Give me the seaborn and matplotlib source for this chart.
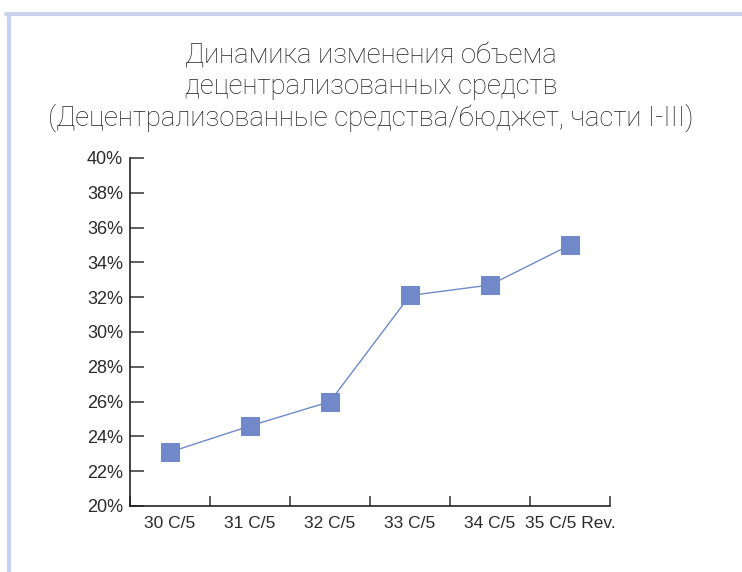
import matplotlib
matplotlib.use('Agg')
import matplotlib.pyplot as plt
from matplotlib.lines import Line2D
from matplotlib.ticker import FixedLocator, PercentFormatter
import seaborn as sns
import pandas as pd

# data
sessions = ['30 C/5', '31 C/5', '32 C/5', '33 C/5', '34 C/5', '35 C/5 Rev.']
share = [23.1, 24.6, 26.0, 32.1, 32.7, 35.0]
y_ticks = [20, 22, 24, 26, 28, 30, 32, 34, 36, 38, 40]

title = ('Динамика изменения объема\n'
         'децентрализованных средств\n'
         '(Децентрализованные средства/бюджет, части I-III)')

df = pd.DataFrame({'pos': range(len(sessions)), 'share': share})

sns.set_style('white')
plt.rcParams['font.family'] = ['Liberation Sans', 'DejaVu Sans']
txt = '#2b2b2b'
blue = '#7189c8'

fig = plt.figure(figsize=(7.42, 5.72), dpi=100)
ax = fig.add_axes([130 / 742, 1 - 506 / 572, 480 / 742, 348 / 572])

sns.lineplot(data=df, x='pos', y='share', ax=ax, color=blue, linewidth=1,
             marker='s', markersize=12.5, markeredgecolor=blue)

ax.set_xlim(-0.5, len(sessions) - 0.5)
ax.set_ylim(20, 40)
ax.set_xticks(range(len(sessions)))
ax.set_xticklabels(sessions)
ax.xaxis.set_minor_locator(FixedLocator([i - 0.5 for i in range(len(sessions) + 1)]))
ax.set_yticks(y_ticks)
ax.yaxis.set_major_formatter(PercentFormatter(decimals=0))
ax.set_xlabel('')
ax.set_ylabel('')

for s in ['top', 'right']:
    ax.spines[s].set_visible(False)
for s in ['left', 'bottom']:
    ax.spines[s].set_color('#222222')
    ax.spines[s].set_linewidth(1.2)

ax.tick_params(axis='y', left=True, direction='in', length=10, width=1.1,
               color='#333333', labelsize=13, labelcolor=txt, pad=5)
ax.tick_params(axis='x', which='major', bottom=False, length=0, labelsize=12.5,
               labelcolor=txt, pad=7)
ax.tick_params(axis='x', which='minor', bottom=True, direction='in', length=7,
               width=1.1, color='#333333')

fig.text(371 / 742, 1 - 42 / 572, title, ha='center', va='top', fontsize=19.8,
         family=['Roboto', 'DejaVu Sans'], fontweight='light', color='#222222',
         linespacing=1.17)

# light frame lines at top and left
frame = '#c9d1ec'
fig.add_artist(Line2D([6 / 742, 1], [1 - 13.5 / 572] * 2, color=frame, lw=3,
                      transform=fig.transFigure))
fig.add_artist(Line2D([8.5 / 742] * 2, [0, 1 - 13.5 / 572], color=frame, lw=3,
                      transform=fig.transFigure))

fig.savefig('out.png', dpi=100)
